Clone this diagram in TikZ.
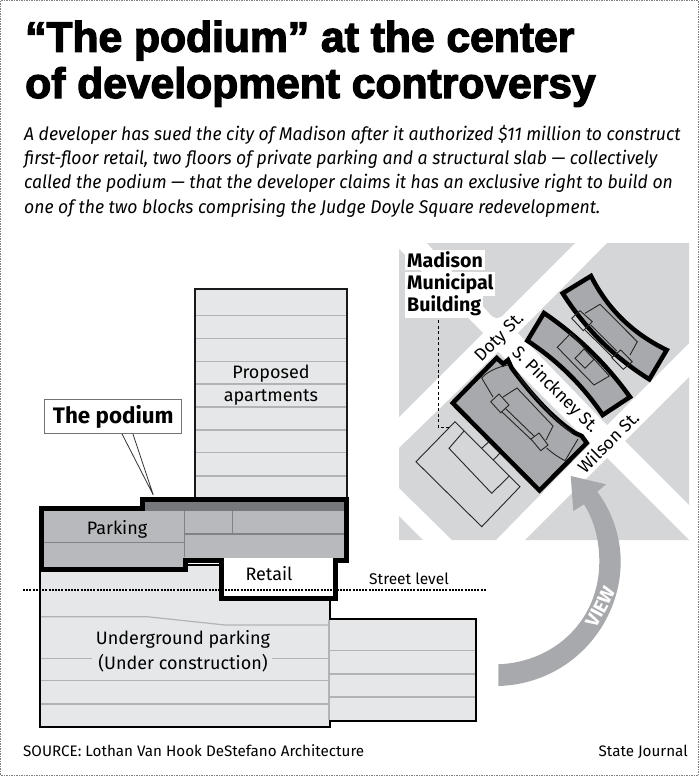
\documentclass[tikz,border=0pt]{standalone}
\usepackage{fontspec}
\setmainfont{Fira Sans}
\newfontfamily\titlefont[BoldFeatures={FakeBold=3}]{Liberation Sans}
\newfontfamily\introfont[FakeStretch=0.955]{Fira Sans}
\definecolor{mapgray}{HTML}{D5D6D8}
\definecolor{bldgray}{HTML}{A7A9AC}
\definecolor{floorfill}{HTML}{E6E7E8}
\definecolor{floorline}{HTML}{B1B3B6}
\definecolor{parkfill}{HTML}{B8B9BC}
\definecolor{parkline}{HTML}{808285}
\definecolor{slabfill}{HTML}{77787B}
\tikzset{
  headline/.style={anchor=base west,inner sep=0pt,font=\titlefont\bfseries\fontsize{42.6}{42.6}\selectfont},
  intro/.style={anchor=base west,inner sep=0pt,font=\introfont\itshape\fontsize{18.4}{20}\selectfont},
  label/.style={inner sep=0pt,font=\fontsize{18}{20}\selectfont},
  mapname/.style={anchor=base west,fill=white,inner sep=2pt,font=\bfseries\fontsize{19.6}{20}\selectfont},
  street/.style={inner sep=0pt,font=\fontsize{17.5}{20}\selectfont},
  credit/.style={inner sep=0pt,font=\fontsize{15.2}{18}\selectfont},
  block/.style={fill=mapgray,draw=none},
  bldg/.style={fill=bldgray,draw=black,line width=4.5pt,line join=miter},
  thinline/.style={draw=black!85,line width=0.9pt},
  floor/.style={draw=floorline,line width=1.2pt},
}
\begin{document}
\begin{tikzpicture}[x=1pt,y=-1pt]
    \useasboundingbox (0,0) rectangle (699,776);
    \draw [gray,line width=0.8pt,dash pattern=on 1.5pt off 1pt] (0.7,0.7) rectangle (698.2,775.4);

    % headline and intro
    \node [headline] (titleA) at (25,51.7) {“The podium” at the center};
    \node [headline] (titleB) at (25,98) {of development controversy};
    \node [intro] (introA) at (24,140) {A developer has sued the city of Madison after it authorized \$11 million to construct};
    \node [intro] (introB) at (24,164) {first-floor retail, two floors of private parking and a structural slab — collectively};
    \node [intro] (introC) at (24,188.5) {called the podium — that the developer claims it has an exclusive right to build on};
    \node [intro] (introD) at (24,213) {one of the two blocks comprising the Judge Doyle Square redevelopment.};

    % map blocks
    \fill [block] (399,249) -- (483,333) -- (399,417) -- cycle;
    \fill [block] (427,243) -- (575,243) -- (505,313) .. controls (499,320) and (495,320) .. (489,313) -- cycle;
    \fill [block] (607,243) -- (689,243) -- (689,343) -- (607,425) -- (518,333) -- cycle;
    \fill [block] (689,377) -- (625,441) -- (689,505) -- cycle;
    \fill [block] (607,458) -- (689,540) -- (525,540) -- cycle;
    \fill [block] (399,448) -- (498,352) -- (590,444) -- (496,540) -- (452,540) -- (399,488) -- cycle;
    \fill [block] (399,516) -- (423,540) -- (399,540) -- cycle;

    % thin outlines beside the site
    \draw [thinline] (455,421.7) -- (520,486.7) -- (481.7,526.7) -- (416,461.7) -- cycle;
    \draw [thinline] (464,431) -- (449,448.3) -- (491.7,493.3) -- (509.3,476);
    \draw [thinline] (481.7,448.3) -- (490,440.7);
    \draw [thinline] (493.3,460) -- (500.7,452.3);

    % buildings on the map
    \draw [bldg] (452.7,403) -- (496.7,358) -- (503.3,364) -- (508,360) -- (511.7,368)
        .. controls (530,393) and (552,418) .. (575,433) -- (581.7,436) -- (586.7,443) -- (539.5,490.5) -- cycle;
    \draw [bldg] (544,313) .. controls (577.7,336) and (606.3,364) .. (630,397)
        -- (602.7,415) .. controls (582.6,385.2) and (557.4,360.5) .. (527.3,340.7) -- cycle;
    \draw [bldg] (591,276) .. controls (607.7,309.2) and (633,333.8) .. (666.7,350)
        -- (649.3,379.3) .. controls (613.9,357.2) and (585,328.5) .. (562.7,293.3) -- cycle;

    % inside the site building
    \draw [thinline] (493,397) -- (481.7,378) .. controls (488,371) and (498,367) .. (508,365);
    \draw [thinline] (503,397) -- (517,388) -- (553,426) -- (546,440);
    \draw [thinline] (490.7,401.7) -- (499,394) -- (509,405) -- (500.7,412.7) -- cycle;
    \draw [thinline] (531,439) -- (539,433) -- (548,445) -- (540.7,450.7) -- cycle;
    \draw [thinline] (505,408) -- (534,436);
    \draw [thinline] (501.7,411.7) -- (531.7,440);
    \draw [thinline] (546.7,448) .. controls (552,453) and (558,457) .. (565,460.7) -- (578,439);
    \draw [thinline] (518,375) .. controls (535,397) and (552,417) .. (571.7,433);

    % inside the middle building
    \draw [thinline] (557.3,347.3) -- (570.7,333.3) -- (609.3,376) -- (594,385) -- cycle;
    \draw [thinline] (575,358.3) -- (584,349) -- (594,359.3) -- (585,368.3) -- cycle;

    % inside the upper building
    \draw [thinline] (585,313.3) -- (600,304.3) -- (637.3,341.7) -- (630,355);
    \draw [thinline] (571.7,318.3) -- (580,310.7) -- (592.3,321.7) -- (583.3,330.7) -- cycle;
    \draw [thinline] (611.7,357.7) -- (620.7,350) -- (632.3,361.7) -- (623.3,369.3) -- cycle;
    \draw [thinline] (590.7,325) -- (616.7,351);
    \draw [thinline] (585,330) -- (612.7,357.3);

    % street names
    \node [street,rotate=45] (doty) at (500,338) {Doty St.};
    \node [street,rotate=-45] (pinckney) at (555,390) {S. Pinckney St.};
    \node [street,rotate=45] (wilson) at (608,442) {Wilson St.};

    \node [mapname] (madison) at (405,267.5) {Madison};
    \node [mapname] (municipal) at (405,289.5) {Municipal};
    \node [mapname] (building) at (405,311.5) {Building};
    \coordinate (leaderA) at (438.3,320);
    \coordinate (leaderB) at (438.3,427.7);
    \coordinate (leaderC) at (449.3,427.7);
    \draw [black,line width=0.9pt,dash pattern=on 3pt off 2.5pt] (leaderA) -- (leaderB) -- (leaderC);

    % view arrow
    \fill [bldgray] (498.3,686) .. controls (570,684) and (620.7,625) .. (620.7,561.7)
        .. controls (620.7,535) and (611,510) .. (597.3,491.7) -- (606,484.3) -- (570.7,476) -- (573.3,511) -- (584,504.3)
        .. controls (594,520) and (599.3,540) .. (599.3,561.7)
        .. controls (599.3,620) and (555,662) .. (498.3,664.3) -- cycle;
    \node [inner sep=0pt,rotate=62,white,font=\bfseries\fontsize{19}{19}\selectfont] (view) at (600.5,606.7) {VIEW};

    % section: apartments
    \draw [fill=floorfill,draw=black!90,line width=1.8pt] (194.7,289.3) rectangle (347.3,499);
    \foreach \y in {315.7,338.3,361.3,384,407,430,452.7,476}{% storeys
      \draw [floor] (195.7,\y) -- (346.3,\y);
    }

    % section: underground
    \draw [fill=floorfill,draw=black,line width=1.8pt] (40,565) -- (186,565) -- (221,565) -- (221,599) -- (330,599)
        -- (330,619) -- (475.7,619) -- (475.7,720.7) -- (330,720.7) -- (330,727) -- (40,727) -- cycle;
    \draw [floor] (41,616.7) -- (147,616.7) -- (225,625) -- (329,625);
    \draw [floor] (41,658.3) -- (92,658.3);
    \draw [floor] (272,658.3) -- (329,658.3);
    \foreach \y in {680.7,704}{% lower floors
      \draw [floor] (41,\y) -- (329,\y);
    }
    \foreach \y in {650.3,674,697}{% floors of the wing
      \draw [floor] (330,\y) -- (474.7,\y);
    }
    \draw [floor] (329,620) -- (329,720);

    % section: podium
    \draw [fill=parkfill,draw=black,line width=5pt,line join=miter] (41.7,508.3) -- (142.3,508.3) -- (142.3,499.5) -- (346,499.5)
        -- (346,560.7) -- (335,560.7) -- (335,598.5) -- (221,598.5) -- (221,560) -- (185.7,560) -- (185.7,569) -- (41.7,569) -- cycle;
    \fill [white] (223.5,558.2) rectangle (332.5,596);
    \fill [slabfill] (144.8,502) rectangle (343.5,510.7);
    \draw [parkline,line width=1.2pt] (44.2,542.7) -- (183.5,542.7);
    \draw [parkline,line width=1.2pt] (184.3,510.7) -- (184.3,557.3);
    \draw [parkline,line width=1.2pt] (185,534) -- (343.5,534);
    \draw [parkline,line width=1.2pt] (232.3,510.7) -- (232.3,534);

    % street level
    \coordinate (levelA) at (23,590);
    \coordinate (levelB) at (486.7,590);
    \draw [black,line width=1.8pt,dash pattern=on 2pt off 1.2pt] (levelA) -- (levelB);

    % callout
    \coordinate (tip) at (153.3,495);
    \coordinate (tipA) at (121.7,433.3);
    \coordinate (tipB) at (132.7,433.3);
    \draw [black!80,line width=0.8pt] (tipA) -- (tip) -- (tipB);
    \node [draw=black!55,line width=1pt,fill=white,minimum width=136.7pt,minimum height=34.3pt,inner sep=0pt,
        font=\bfseries\fontsize{22.4}{24}\selectfont] (podium) at (113.3,416.7) {The podium};

    % section labels
    \node [label] (proposed) at (271,373.5) {Proposed};
    \node [label] (apartments) at (271,397.5) {apartments};
    \node [label] (parking) at (117,529) {Parking};
    \node [label] (retail) at (269,574) {Retail};
    \node [credit,font=\fontsize{15.5}{18}\selectfont] (level) at (409,579) {Street level};
    \node [label] (underA) at (183,639) {Underground parking};
    \node [label] (underB) at (183,663) {(Under construction)};

    % credits
    \node [credit,anchor=base west] (source) at (23,756) {SOURCE: Lothan Van Hook DeStefano Architecture};
    \node [credit,anchor=base east] (paper) at (688,756) {State Journal};
\end{tikzpicture}
\end{document}
